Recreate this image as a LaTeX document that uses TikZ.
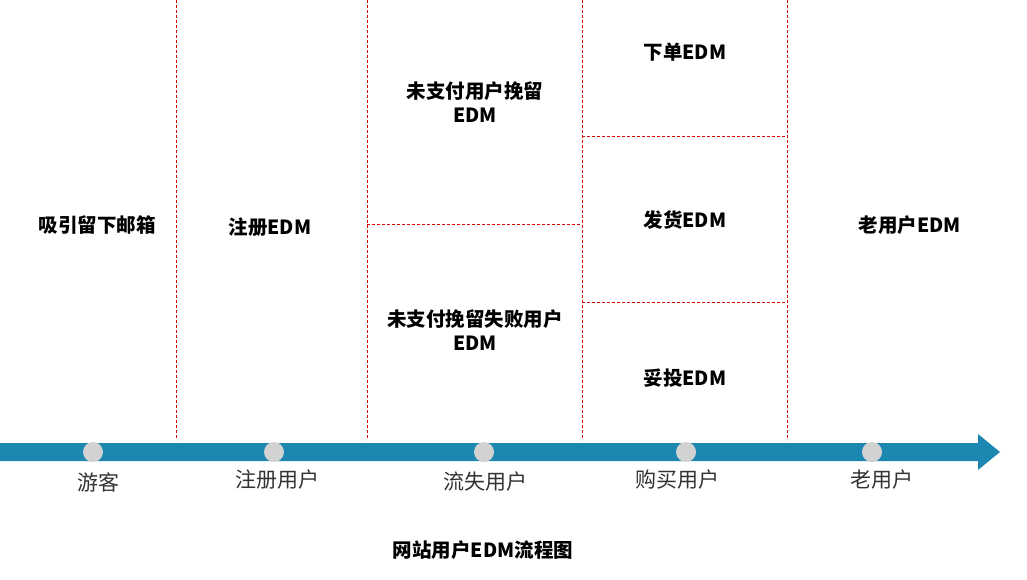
\documentclass[tikz,border=0pt]{standalone}
\usepackage{fontspec}
\setmainfont{Noto Sans CJK SC}
\definecolor{bar}{HTML}{1C88B2}
\begin{document}
\begin{tikzpicture}[x=1pt,y=-1pt,
  sep/.style={draw=red!85!black,dash pattern=on 3pt off 2pt,line width=0.8pt},
  dot/.style={circle,fill=gray!35,minimum size=20pt,inner sep=0pt},
  stage/.style={font=\fontsize{21}{24}\selectfont,text=black!80},
  edm/.style={font=\bfseries\fontsize{19.5}{24}\selectfont,align=center}]
\useasboundingbox (0,0) rectangle (1027,580);
\foreach \x in {176,367,582,787}{\draw[sep] (\x,0) -- (\x,440);}
\draw[sep] (367,224) -- (582,224);
\draw[sep] (582,136) -- (787,136);
\draw[sep] (582,302) -- (787,302);
\fill[bar] (0,443) -- (978,443) -- (978,434) -- (1000,452) -- (978,470) -- (978,461) -- (0,461) -- cycle;
\node[dot] (d1) at (93,452) {};
\node[dot] (d2) at (274,452) {};
\node[dot] (d3) at (484,452) {};
\node[dot] (d4) at (686,452) {};
\node[dot] (d5) at (872,452) {};
\node[stage] (s1) at (98,482) {游客};
\node[stage] (s2) at (277,480) {注册用户};
\node[stage] (s3) at (485,482) {流失用户};
\node[stage] (s4) at (677,480) {购买用户};
\node[stage] (s5) at (882,480) {老用户};
\node[edm] (e1) at (97,225) {吸引留下邮箱};
\node[edm] (e2) at (270,227) {注册EDM};
\node[edm] (e3) at (475,102) {未支付用户挽留\\EDM};
\node[edm] (e4) at (475,330) {未支付挽留失败用户\\EDM};
\node[edm] (e5) at (685,52) {下单EDM};
\node[edm] (e6) at (685,220) {发货EDM};
\node[edm] (e7) at (685,378) {妥投EDM};
\node[edm] (e8) at (910,225) {老用户EDM};
\node[edm] (t) at (483,550) {网站用户EDM流程图};
\end{tikzpicture}
\end{document}
